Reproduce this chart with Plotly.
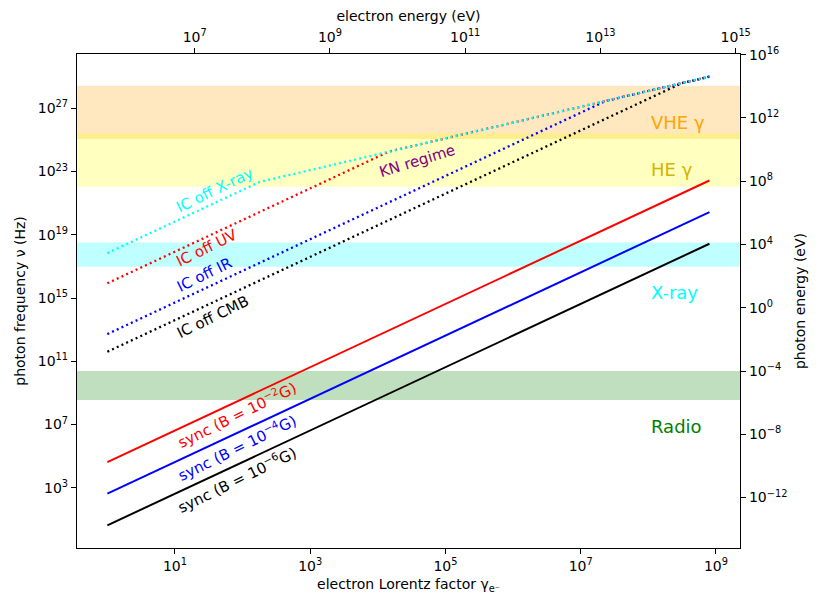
import plotly.graph_objects as go

# ---------------------------------------------------------------------------
# values
# electron Lorentz factor and photon frequency (Hz)
gamma_sync = [1, 8e8]
nu_sync_B2 = [4.2e4, 2.7e22]   # B = 1e-2 G
nu_sync_B4 = [4.2e2, 2.7e20]   # B = 1e-4 G
nu_sync_B6 = [4.2e0, 2.7e18]   # B = 1e-6 G

gamma_ic_xray = [1, 180, 8e8]
nu_ic_xray = [6.9e17, 2.2e22, 9.9e28]
gamma_ic_uv = [1, 1.45e4, 8e8]
nu_ic_uv = [8.5e15, 1.8e24, 9.9e28]
gamma_ic_ir = [1, 2.35e7, 8e8]
nu_ic_ir = [5.2e12, 2.9e27, 9.9e28]
gamma_ic_cmb = [1, 3.1e8, 8e8]
nu_ic_cmb = [4.0e11, 3.8e28, 9.9e28]

# frequency bands (Hz): name, low, high
band_names = ["VHE", "HE", "X-ray", "Radio"]
band_lo = [1.15e25, 1.1e22, 9.5e16, 3.5e8]
band_hi = [2.6e28, 2.6e25, 3.2e18, 2.4e10]

# tick exponents on each axis
xtick_exp = [1, 3, 5, 7, 9]
ytick_exp = [3, 7, 11, 15, 19, 23, 27]
x2tick_exp = [7, 9, 11, 13, 15]
y2tick_exp = [-12, -8, -4, 0, 4, 8, 12, 16]

me_c2_eV = 0.511e6        # top axis: electron energy = gamma * me c^2
h_eVs = 4.1357e-15        # right axis: photon energy = h nu

FONT = "DejaVu Sans"


def pow_labels(exps):
    return ["10<sup>%s</sup>" % str(e).replace("-", "−") for e in exps]


################################################################################
fig = go.Figure()

band_colors = ["rgba(255,165,0,0.25)", "rgba(255,255,0,0.25)",
               "rgba(0,255,255,0.25)", "rgba(0,128,0,0.25)"]
for lo, hi, c in zip(band_lo, band_hi, band_colors):
    fig.add_hrect(y0=lo, y1=hi, fillcolor=c, line_width=0, layer="below")

dot = "2px,3.2px"
ic_lines = [(gamma_ic_cmb, nu_ic_cmb, "black", "IC off CMB"),
            (gamma_ic_ir, nu_ic_ir, "blue", "IC off IR"),
            (gamma_ic_uv, nu_ic_uv, "red", "IC off UV"),
            (gamma_ic_xray, nu_ic_xray, "cyan", "IC off X-ray")]
for g, nu, c, name in ic_lines:
    fig.add_trace(go.Scatter(x=g, y=nu, mode="lines", name=name, showlegend=False,
                             line=dict(color=c, width=2.3, dash=dot)))

sync_lines = [(nu_sync_B2, "red"), (nu_sync_B4, "blue"), (nu_sync_B6, "black")]
for nu, c in sync_lines:
    fig.add_trace(go.Scatter(x=gamma_sync, y=nu, mode="lines", showlegend=False,
                             line=dict(color=c, width=2)))

# twin axes (electron energy on top, photon energy on the right)
fig.add_trace(go.Scatter(x=[g * me_c2_eV for g in gamma_sync],
                         y=[n * h_eVs for n in nu_sync_B2],
                         xaxis="x2", yaxis="y2", mode="lines", opacity=0,
                         showlegend=False, hoverinfo="skip"))

# labels (annotation positions are log10 on log axes)
labels = [
    (1.59, 21.83, "IC off X-ray", "cyan", -26),
    (1.47, 18.16, "IC off UV", "red", -26),
    (1.43, 16.46, "IC off IR", "blue", -26),
    (1.56, 13.80, "IC off CMB", "black", -26),
    (4.58, 23.67, "KN regime", "purple", -17),
    (1.92, 7.66, "sync (B = 10<sup>−2</sup>G)", "red", -26),
    (1.92, 5.58, "sync (B = 10<sup>−4</sup>G)", "blue", -26),
    (1.92, 3.55, "sync (B = 10<sup>−6</sup>G)", "black", -26),
]
for lx, ly, txt, c, ang in labels:
    fig.add_annotation(x=lx, y=ly, xref="x", yref="y", text=txt, showarrow=False,
                       textangle=ang, font=dict(family=FONT, size=15, color=c),
                       xanchor="center", yanchor="middle")

regions = [
    (26.13, "VHE γ", "orange"),
    (23.10, "HE γ", "rgb(212,180,0)"),
    (15.32, "X-ray", "cyan"),
    (6.90, "Radio", "green"),
]
for ly, txt, c in regions:
    fig.add_annotation(x=8.01, y=ly, xref="x", yref="y", text=txt, showarrow=False,
                       font=dict(family=FONT, size=18, color=c),
                       xanchor="left", yanchor="middle")

xr = [-0.449, 9.355]
yr = [-0.81, 30.43]
lme = 5.7084
lh = -14.3834

common = dict(type="log",
              ticks="outside", ticklen=5, tickwidth=1, tickcolor="black",
              showline=True, linecolor="black", linewidth=1.3,
              showgrid=False, zeroline=False,
              tickfont=dict(family=FONT, size=14, color="black"))
tfont = dict(family=FONT, size=14, color="black")

fig.update_layout(
    width=815, height=600,
    margin=dict(l=69, r=83, t=46, b=60, autoexpand=False),
    plot_bgcolor="white", paper_bgcolor="white",
    font=dict(family=FONT, size=14, color="black"),
    xaxis=dict(common, range=xr, mirror=True,
               tickvals=[10.0 ** e for e in xtick_exp], ticktext=pow_labels(xtick_exp),
               title=dict(text="electron Lorentz factor γ<sub>e⁻</sub>", standoff=6,
                          font=tfont)),
    yaxis=dict(common, range=yr, mirror=True,
               tickvals=[10.0 ** e for e in ytick_exp], ticktext=pow_labels(ytick_exp),
               title=dict(text="photon frequency ν (Hz)", standoff=8, font=tfont)),
    xaxis2=dict(common, range=[xr[0] + lme, xr[1] + lme],
                tickvals=[10.0 ** e for e in x2tick_exp], ticktext=pow_labels(x2tick_exp),
                overlaying="x", side="top", anchor="y",
                title=dict(text="electron energy (eV)", standoff=4, font=tfont)),
    yaxis2=dict(common, range=[yr[0] + lh, yr[1] + lh],
                tickvals=[10.0 ** e for e in y2tick_exp], ticktext=pow_labels(y2tick_exp),
                overlaying="y", side="right", anchor="x",
                title=dict(text="photon energy (eV)", standoff=8, font=tfont)),
)

fig.write_html("out.html")
